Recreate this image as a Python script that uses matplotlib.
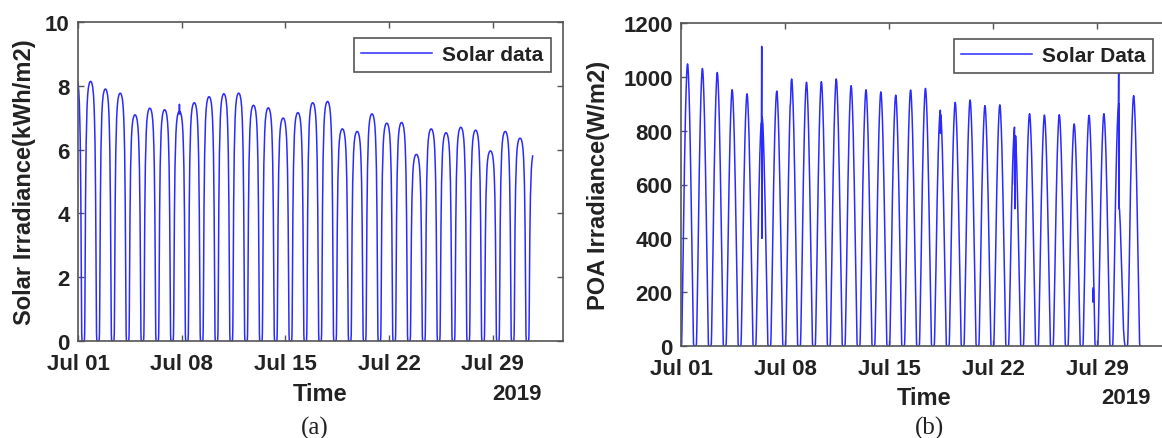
import numpy as np
import matplotlib
matplotlib.use('Agg')
import matplotlib.pyplot as plt
import matplotlib.dates as mdates
from datetime import datetime, timedelta

START = datetime(2019, 7, 1)

# (a) daily peak of solar irradiance, kWh/m2
# first entry is the tail of Jun 30, last entry is cut off by the end of the record
peaks_a = [8.30, 8.14, 7.90, 7.77, 7.09, 7.30, 7.25, 7.20, 7.47, 7.66, 7.75,
           7.77, 7.39, 7.31, 6.99, 7.16, 7.47, 7.51, 6.65, 6.57, 7.12, 6.83,
           6.85, 5.85, 6.65, 6.53, 6.70, 6.61, 5.96, 6.57, 6.36, 5.95]
first_peak_a = -0.15      # days after Jul 01 00:00
end_a = 30.73
# (days from peak, value) pieces that differ from the usual day shape
spikes_a = {7: [(-0.03, 7.12), (0.0, 7.42), (0.03, 7.12)]}

# (b) daily peak of POA irradiance, W/m2
peaks_b = [1048, 1031, 1016, 952, 937, 860, 947, 992, 980, 982, 992, 967,
           952, 944, 932, 951, 957, 876, 905, 914, 893, 896, 813, 863, 858,
           859, 825, 857, 863, 905, 930]
first_peak_b = 0.44
end_b = 30.95
spikes_b = {
    5: [(-0.03, 834), (-0.012, 1113), (-0.004, 860), (0.004, 400), (0.012, 850),
        (0.02, 430), (0.028, 845), (0.036, 840)],
    7: [(-0.08, 900), (-0.07, 912), (-0.06, 930)],
    17: [(0.0, 876), (0.01, 790), (0.02, 860), (0.03, 800), (0.04, 850)],
    22: [(-0.012, 813), (-0.004, 600), (0.004, 732), (0.012, 510), (0.02, 700),
         (0.028, 520), (0.036, 690), (0.045, 700)],
    29: [(-0.02, 905), (-0.006, 1022), (0.0, 640), (0.006, 900), (0.012, 510),
         (0.018, 640), (0.024, 520), (0.05, 505), (0.1, 450), (0.16, 350),
         (0.22, 240), (0.28, 130), (0.32, 60), (0.38, 15)],
}
blip_b_day = 27.72
blip_b = [215, 163, 210, 170]

# shape of one day around its peak: days from peak -> fraction of peak (left half)
shape_a_off = [-0.50, -0.42, -0.40, -0.385, -0.37, -0.355, -0.34, -0.32, -0.30,
               -0.27, -0.24, -0.20, -0.15, -0.10, -0.05, 0.0]
shape_a_frac = [0, 0, 0.03, 0.12, 0.27, 0.42, 0.55, 0.67, 0.76, 0.84, 0.90,
                0.945, 0.975, 0.99, 0.998, 1.0]
shape_b_off = [-0.50, -0.42, -0.40, -0.38, -0.36, -0.33, -0.30, -0.27, -0.24,
               -0.21, -0.18, -0.14, -0.10, -0.06, -0.03, 0.0]
shape_b_frac = [0, 0, 0.01, 0.05, 0.11, 0.21, 0.31, 0.42, 0.53, 0.63, 0.72,
                0.82, 0.90, 0.96, 0.99, 1.0]


def day_shape(off, frac):
    off = np.asarray(off)
    frac = np.asarray(frac)
    return np.r_[off, -off[-2::-1]], np.r_[frac, frac[-2::-1]]


def build_series(peaks, first_peak, shape, spikes, t_end):
    off, frac = shape
    ts, vs = [], []
    for k, p in enumerate(peaks):
        pts = list(zip(off, frac * p))
        if k in spikes:
            sp = spikes[k]
            lo, hi = sp[0][0], sp[-1][0]
            pts = [q for q in pts if q[0] < lo or q[0] > hi] + sp
            pts.sort()
        for o, v in pts:
            t = first_peak + k + o
            if 0 <= t <= t_end:
                ts.append(START + timedelta(days=float(t)))
                vs.append(v)
    return ts, vs


plt.rcParams['font.family'] = ['Liberation Sans', 'DejaVu Sans']
plt.rcParams['font.weight'] = 'bold'
plt.rcParams['axes.labelweight'] = 'bold'

fig = plt.figure(figsize=(11.62, 4.39), dpi=100, facecolor='w')
ax_a = fig.add_axes([78 / 1162, 1 - 342 / 439, 485 / 1162, 319 / 439])
ax_b = fig.add_axes([681 / 1162, 1 - 347 / 439, 487 / 1162, 323 / 439])

line_col = '#2b2bff'
frame_col = '#555555'
text_col = '#222222'

t_a, v_a = build_series(peaks_a, first_peak_a, day_shape(shape_a_off, shape_a_frac), spikes_a, end_a)
t_b, v_b = build_series(peaks_b, first_peak_b, day_shape(shape_b_off, shape_b_frac), spikes_b, end_b)

ax_a.plot(t_a, v_a, color=line_col, lw=1.1, label='Solar data')
ax_b.plot(t_b, v_b, color=line_col, lw=1.1, label='Solar Data')
blip_t = [START + timedelta(days=blip_b_day + 0.002 * i) for i in range(len(blip_b))]
ax_b.plot(blip_t, blip_b, color=line_col, lw=1.3)

ticks = [START + timedelta(days=d) for d in (0, 7, 14, 21, 28)]
setup = [
    (ax_a, 'Solar Irradiance(kWh/m2)', (0, 10), np.arange(0, 11, 2), 0.975, -0.111, 0.905, -0.166, '(a)', 315),
    (ax_b, 'POA Irradiance(W/m2)', (0, 1200), np.arange(0, 1201, 200), 0.969, -0.169, 0.913, -0.158, '(b)', 930),
]
for ax, ylab, ylim, yt, leg_x, ylab_x, yr_x, lab_y, tag, tag_x in setup:
    ax.set_xlim(START, START + timedelta(days=32.75))
    ax.set_ylim(*ylim)
    ax.set_yticks(yt)
    ax.set_xticks(ticks)
    ax.xaxis.set_major_formatter(mdates.DateFormatter('%b %d'))
    ax.tick_params(direction='in', length=4, width=1, top=True, right=True,
                   colors=frame_col, labelcolor=text_col, labelsize=16)
    ax.tick_params(axis='x', pad=9)
    ax.tick_params(axis='y', pad=6)
    for s in ax.spines.values():
        s.set_color(frame_col)
        s.set_linewidth(1.2)
    ax.set_ylabel(ylab, fontsize=17, fontweight='bold', color=text_col)
    ax.yaxis.label.set_va('center')
    ax.yaxis.set_label_coords(ylab_x, 0.5)
    ax.set_xlabel('Time', fontsize=17, fontweight='bold', color=text_col)
    ax.xaxis.label.set_va('center')
    ax.xaxis.set_label_coords(0.5, lab_y)
    ax.text(yr_x, lab_y, '2019', transform=ax.transAxes, ha='center', va='center',
            fontsize=16, fontweight='bold', color=text_col)
    leg = ax.legend(loc='upper right', bbox_to_anchor=(leg_x, 0.95), borderaxespad=0,
                    fancybox=False, framealpha=1, edgecolor=frame_col, handlelength=3.4,
                    handletextpad=0.5, borderpad=0.35, prop={'weight': 'bold', 'size': 15})
    leg.get_frame().set_linewidth(1.2)
    for txt in leg.get_texts():
        txt.set_color(text_col)
    fig.text(tag_x / 1162, 1 - 428 / 439, tag, ha='center', va='center',
             family='Liberation Serif', weight='normal', fontsize=18, color=text_col)

fig.savefig('out.png', dpi=100)
